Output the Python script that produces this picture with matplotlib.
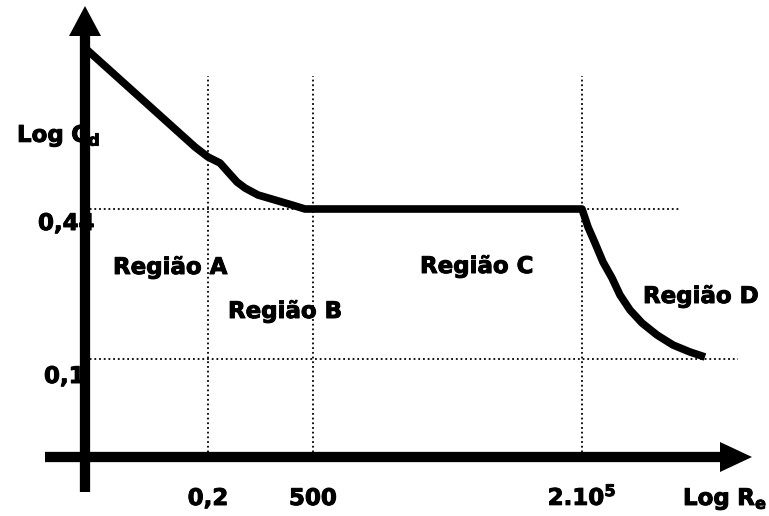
import matplotlib
matplotlib.use("Agg")
import matplotlib.pyplot as plt
import matplotlib.patheffects as pe

plt.rcParams['font.family'] = ['DejaVu Sans']
plt.rcParams['mathtext.fontset'] = 'dejavusans'

# ---- schematic data (chart units, origin at the axes crossing) ----
curve_x = [0, 110, 123, 135, 143, 152, 160, 173, 190, 207, 220, 228, 497,
           503, 510, 518, 527, 535, 545, 557, 572, 588, 605, 620]
curve_y = [409, 310, 300, 294, 285, 275, 269, 262, 257, 252, 248, 248, 248,
           230, 214, 195, 179, 162, 147, 134, 122, 112, 105, 100]

x_tick_pos = [123, 228, 497]
x_tick_labels = ["0,2", "500", r"$\mathbf{2.10^5}$"]
y_tick_pos = [248, 98]
y_tick_labels = ["0,44", "0,1"]
hline_ends = [595, 653]
vline_top = 381

regions = ["Região A", "Região B", "Região C", "Região D"]
region_x = [28, 143, 335, 558]
region_y = [183, 139, 184, 154]

fig = plt.figure(figsize=(7.69, 5.16), dpi=100)
ax = fig.add_axes([0, 0, 1, 1])
ax.set_xlim(-85, 684)
ax.set_ylim(-59, 457)
ax.axis('off')

# dotted guides
dot = dict(color='black', lw=1.3, linestyle=(0, (1, 1.6)), zorder=2)
for xp in x_tick_pos:
    ax.plot([xp, xp], [0, vline_top], **dot)
for yp, xe in zip(y_tick_pos, hline_ends):
    ax.plot([0, xe], [yp, yp], **dot)

# axes with arrows
ax.plot([0, 0], [-35, 425], color='black', lw=7.4, solid_capstyle='butt', zorder=4)
ax.fill([-16, 16, 0], [421, 421, 451], color='black', zorder=4, lw=0)
ax.plot([-40, 640], [0, 0], color='black', lw=7.4, solid_capstyle='butt', zorder=4)
ax.fill([635, 635, 667], [-15, 15, 0], color='black', zorder=4, lw=0)

# curve
ax.plot(curve_x, curve_y, color='black', lw=5.5, solid_capstyle='butt',
        solid_joinstyle='round', zorder=5)

fs = 16.5
heavy = [pe.withStroke(linewidth=0.7, foreground='black')]
tk = dict(fontsize=fs, fontweight='bold', zorder=1, va='baseline', path_effects=heavy)
# tick labels
for xp, lab in zip(x_tick_pos, x_tick_labels):
    ax.text(xp, -48, lab, ha='center', **tk)
ax.text(-47, 227, y_tick_labels[0], ha='left', **tk)
ax.text(-41, 74, y_tick_labels[1], ha='left', **tk)

# axis titles
ax.text(-68, 315, r"$\mathbf{Log\ C_d}$", ha='left', **tk)
ax.text(598, -48, r"$\mathbf{Log\ R_e}$", ha='left', **tk)

for name, rx, ry in zip(regions, region_x, region_y):
    ax.text(rx, ry, name, ha='left', **tk)

fig.savefig('out.png', dpi=100)
